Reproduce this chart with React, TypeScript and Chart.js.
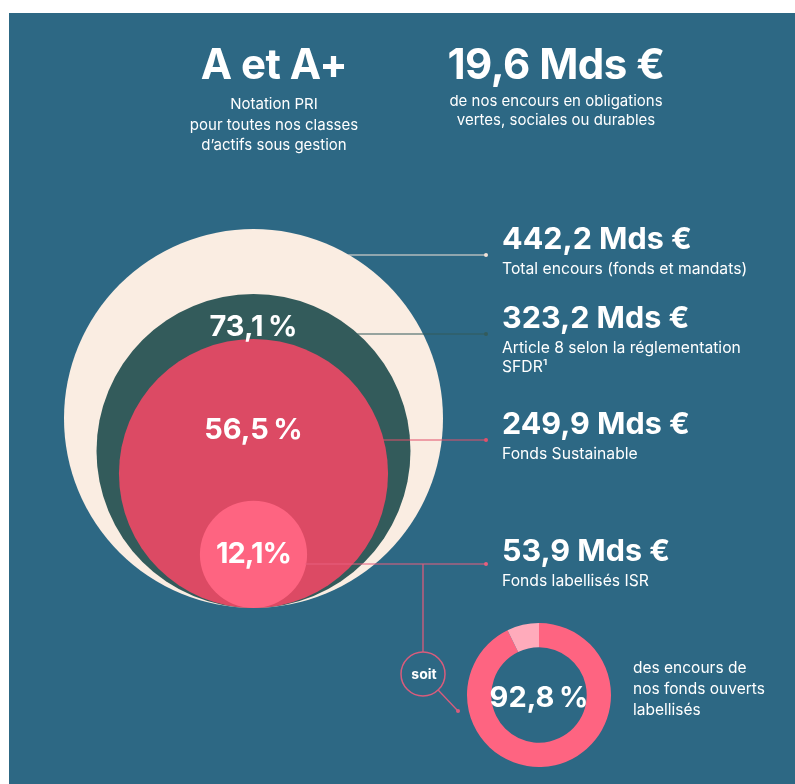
import React, { useEffect, useRef } from "react";
import { Chart, registerables } from "chart.js";

Chart.register(...registerables);

// ---------- DATA ----------
const RATING = "A et A+";
const RATING_DESC = ["Notation PRI", "pour toutes nos classes", "d\u2019actifs sous gestion"];
const BONDS_MDS = 19.6;
const BONDS_DESC = ["de nos encours en obligations", "vertes, sociales ou durables"];

const ENCOURS_MDS = [442.2, 323.2, 249.9, 53.9];
const ENCOURS_DESC = [
  ["Total encours (fonds et mandats)"],
  ["Article 8 selon la r\u00e9glementation", "SFDR\u00b9"],
  ["Fonds Sustainable"],
  ["Fonds labellis\u00e9s ISR"],
];
const ENCOURS_PCT = [null, 73.1, 56.5, 12.1];

const LABELLISES_PCT = 92.8;
const LABELLISES_DESC = ["des encours de", "nos fonds ouverts", "labellis\u00e9s"];
const SOIT = "soit";

// ---------- STYLE / LAYOUT ----------
const W = 795;
const H = 784;
const BG = "#2d6884";
const CIRCLE_COLORS = ["#faede2", "#335b5b", "#dc4a64", "#fe6481"];
const LEADER_COLORS = ["#f3e3d8", "#335b5b", "#e2506b", "#e85f7e"];
const CONNECT_COLOR = "#d95c7c";
const DONUT_COLORS = ["#fe6481", "#ffabbb"];
const FONT = "Inter, 'Open Sans', sans-serif";

const CX = 253.5; // circle centre x
const BASE_Y = 608; // common tangent point (bottom)
const R_MAX = 189.5; // radius of the largest circle in px (bubble size scale)
const SIZE_EXP = 0.6;

const LEADER_Y = [255, 334, 440, 564];
const LEADER_END_X = 486;
const VALUE_X = 502;
const VALUE_Y = [238, 317, 423, 550];
const PCT_Y = [0, 325, 428, 552];

const SOIT_X = 423;
const SOIT_Y = 674;
const SOIT_R = 22;
const SOIT_END = { x: 458, y: 711 };

const DONUT_CX = 539;
const DONUT_CY = 695;
const DONUT_R = 72;
const DONUT_IN = 53;

const fmt = (v: number) => v.toFixed(1).replace(".", ",");

function Txt(props: {
  x: number;
  y: number;
  size: number;
  weight?: number;
  center?: boolean;
  ls?: number;
  color?: string;
  children: React.ReactNode;
}) {
  const { x, y, size, weight = 400, center = false, ls = 0, color = "#ffffff", children } = props;
  return (
    <div
      style={{
        position: "absolute",
        left: x,
        top: y,
        transform: center ? "translate(-50%, -50%)" : "translate(0, -50%)",
        fontFamily: FONT,
        fontSize: size,
        fontWeight: weight,
        lineHeight: 1,
        letterSpacing: ls,
        whiteSpace: "nowrap",
        color,
      }}
    >
      {children}
    </div>
  );
}

function CirclesChart() {
  const ref = useRef<HTMLCanvasElement>(null);
  useEffect(() => {
    if (!ref.current) return;
    // relative size of each circle (1 = total), used both for the centre height and the radius
    const rel = ENCOURS_MDS.map((v) => Math.pow(v / ENCOURS_MDS[0], SIZE_EXP));
    const leaders = {
      id: "leaders",
      afterDatasetsDraw(chart: any) {
        const ctx = chart.ctx as CanvasRenderingContext2D;
        const meta = chart.getDatasetMeta(0);
        meta.data.forEach((el: any, i: number) => {
          const r = Number(el.options.radius) || 0;
          const ly = LEADER_Y[i];
          const dy = ly - el.y;
          const sx = el.x + Math.sqrt(Math.max(0, r * r - dy * dy)) - 1;
          ctx.save();
          ctx.strokeStyle = LEADER_COLORS[i];
          ctx.fillStyle = LEADER_COLORS[i];
          ctx.lineWidth = 1.2;
          ctx.beginPath();
          ctx.moveTo(sx, ly);
          ctx.lineTo(LEADER_END_X, ly);
          ctx.stroke();
          ctx.beginPath();
          ctx.arc(LEADER_END_X, ly, 2, 0, Math.PI * 2);
          ctx.fill();
          ctx.restore();
        });
        // "soit" connector
        const ly = LEADER_Y[3];
        ctx.save();
        ctx.strokeStyle = CONNECT_COLOR;
        ctx.fillStyle = CONNECT_COLOR;
        ctx.lineWidth = 1.3;
        ctx.beginPath();
        ctx.moveTo(SOIT_X, ly);
        ctx.lineTo(SOIT_X, SOIT_Y - SOIT_R);
        ctx.stroke();
        ctx.lineWidth = 1.5;
        ctx.beginPath();
        ctx.arc(SOIT_X, SOIT_Y, SOIT_R, 0, Math.PI * 2);
        ctx.stroke();
        const a = Math.atan2(SOIT_END.y - SOIT_Y, SOIT_END.x - SOIT_X);
        ctx.lineWidth = 1.3;
        ctx.beginPath();
        ctx.moveTo(SOIT_X + SOIT_R * Math.cos(a), SOIT_Y + SOIT_R * Math.sin(a));
        ctx.lineTo(SOIT_END.x, SOIT_END.y);
        ctx.stroke();
        ctx.beginPath();
        ctx.arc(SOIT_END.x, SOIT_END.y, 2, 0, Math.PI * 2);
        ctx.fill();
        ctx.restore();
      },
    };
    const chart = new Chart(ref.current, {
      type: "bubble",
      data: {
        datasets: [
          {
            data: rel.map((k) => ({ x: 0, y: k, r: k * R_MAX })),
            backgroundColor: CIRCLE_COLORS,
            borderWidth: 0,
            hoverBorderWidth: 0,
            clip: false,
          } as any,
        ],
      },
      options: {
        responsive: false,
        animation: false,
        events: [],
        layout: { padding: 0, autoPadding: false },
        scales: {
          x: { type: "linear", display: false, bounds: "data", min: -CX / R_MAX, max: (W - CX) / R_MAX },
          y: { type: "linear", display: false, bounds: "data", min: -(H - BASE_Y) / R_MAX, max: BASE_Y / R_MAX },
        },
        plugins: { legend: { display: false }, tooltip: { enabled: false } },
      } as any,
      plugins: [leaders],
    });
    return () => chart.destroy();
  }, []);
  return (
    <canvas
      ref={ref}
      width={W}
      height={H}
      style={{ position: "absolute", left: 0, top: 0, width: W, height: H }}
    />
  );
}

function DonutChart() {
  const ref = useRef<HTMLCanvasElement>(null);
  const S = 160;
  useEffect(() => {
    if (!ref.current) return;
    const chart = new Chart(ref.current, {
      type: "doughnut",
      data: {
        labels: ["labellis\u00e9s", "autres"],
        datasets: [
          {
            data: [LABELLISES_PCT, 100 - LABELLISES_PCT],
            backgroundColor: DONUT_COLORS,
            borderWidth: 0,
          },
        ],
      },
      options: {
        responsive: false,
        animation: false,
        events: [],
        radius: DONUT_R,
        cutout: DONUT_IN,
        layout: { padding: 0 },
        plugins: { legend: { display: false }, tooltip: { enabled: false } },
      } as any,
    });
    return () => chart.destroy();
  }, []);
  return (
    <canvas
      ref={ref}
      width={S}
      height={S}
      style={{ position: "absolute", left: DONUT_CX - S / 2, top: DONUT_CY - S / 2, width: S, height: S }}
    />
  );
}

export default function App() {
  return (
    <div
      style={{
        position: "absolute",
        left: 0,
        top: 0,
        width: W,
        height: H,
        background: "#ffffff",
        overflow: "hidden",
      }}
    >
      <div style={{ position: "absolute", left: 9, top: 13, right: 0, bottom: 0, background: BG }} />
      <CirclesChart />
      <DonutChart />

      {/* top left */}
      <Txt x={274} y={64} size={42} weight={700} center ls={-0.5}>
        {RATING}
      </Txt>
      {RATING_DESC.map((t, i) => (
        <Txt key={t} x={274} y={103 + i * 20.5} size={15} center>
          {t}
        </Txt>
      ))}

      {/* top right */}
      <Txt x={556} y={64} size={42} weight={700} center ls={-0.5}>
        {`${fmt(BONDS_MDS)} Mds \u20ac`}
      </Txt>
      {BONDS_DESC.map((t, i) => (
        <Txt key={t} x={556} y={100 + i * 18.5} size={15} center>
          {t}
        </Txt>
      ))}

      {/* right labels */}
      {ENCOURS_MDS.map((v, i) => (
        <React.Fragment key={i}>
          <Txt x={VALUE_X} y={VALUE_Y[i]} size={30.5} weight={700}>
            {`${fmt(v)} Mds \u20ac`}
          </Txt>
          {ENCOURS_DESC[i].map((t, j) => (
            <Txt key={t} x={VALUE_X} y={VALUE_Y[i] + 31 + j * 19} size={15.7}>
              {t}
            </Txt>
          ))}
        </React.Fragment>
      ))}

      {/* percentages inside circles */}
      {ENCOURS_PCT.map((p, i) =>
        p == null ? null : (
          <Txt key={i} x={CX} y={PCT_Y[i]} size={29} weight={700} center ls={-1}>
            {`${fmt(p)}${i === 3 ? "" : "\u202f"}%`}
          </Txt>
        )
      )}

      {/* soit + donut */}
      <Txt x={SOIT_X + 1} y={SOIT_Y} size={14} weight={700} center>
        {SOIT}
      </Txt>
      <Txt x={DONUT_CX} y={DONUT_CY + 1} size={29} weight={700} center ls={-1}>
        {`${fmt(LABELLISES_PCT)}\u202f%`}
      </Txt>
      {LABELLISES_DESC.map((t, i) => (
        <Txt key={t} x={633} y={668 + i * 21} size={15.5}>
          {t}
        </Txt>
      ))}
    </div>
  );
}
